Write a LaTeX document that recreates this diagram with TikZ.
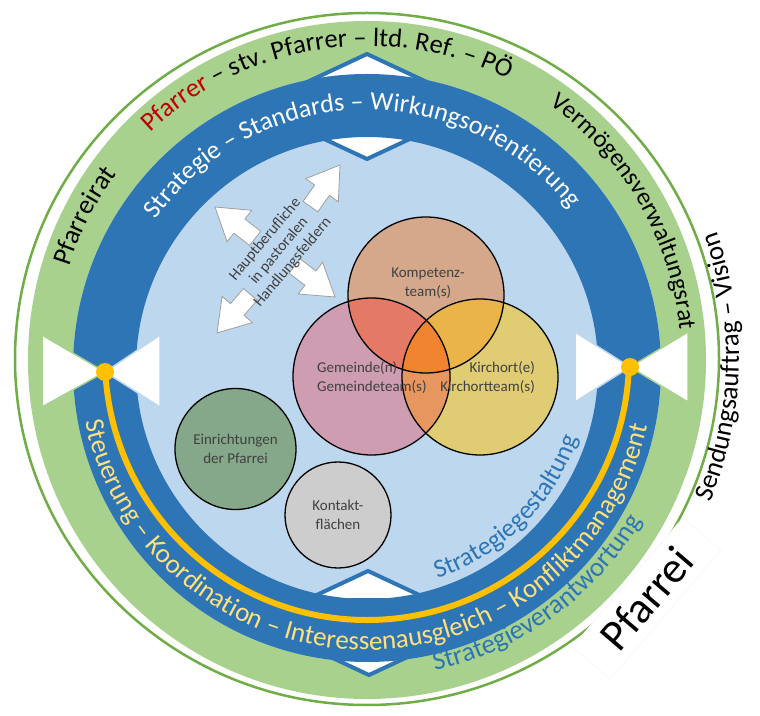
\documentclass[tikz,border=0pt]{standalone}
\usepackage{fontspec}
\setmainfont{Carlito}
\usetikzlibrary{decorations.text}
\definecolor{lgreen}{HTML}{A9D18E}
\definecolor{dblue}{HTML}{2E75B6}
\definecolor{lblue}{HTML}{BDD7EE}
\definecolor{ygold}{HTML}{FFC000}
\definecolor{gline}{HTML}{70AD47}
\definecolor{ytext}{HTML}{FFE07A}
\definecolor{pred}{HTML}{C00000}
\definecolor{txtgray}{HTML}{404040}
\definecolor{konly}{RGB}{213,168,140}
\definecolor{gonly}{RGB}{206,157,177}
\definecolor{ronly}{RGB}{224,205,115}
\definecolor{kgcol}{RGB}{228,122,102}
\definecolor{krcol}{RGB}{234,180,72}
\definecolor{grcol}{RGB}{232,150,96}
\definecolor{kgrcol}{RGB}{240,132,48}
\definecolor{einr}{RGB}{132,168,137}
\definecolor{kont}{RGB}{206,205,205}
\newcommand{\hbarrow}[2]{\draw[blockarrow, shift={#1}, rotate=#2] (0,0) -- (-31,20) -- (-31,9) -- (-51,9) -- (-51,-9) -- (-31,-9) -- (-31,-20) -- cycle;}
\begin{document}
\begin{tikzpicture}[x=1pt,y=1pt,
  chev/.style={fill=white, draw=dblue, line width=4pt, line join=miter},
  bowg/.style={fill=white, draw=lgreen, line width=1.5pt},
  bowb/.style={fill=white, draw=lblue, line width=1.5pt},
  blockarrow/.style={fill=white, draw=gray!75, line width=0.8pt, line join=miter},
  venn/.style={draw=black, line width=1.3pt},
  smalltxt/.style={text=txtgray, font=\fontsize{15}{19}\selectfont, inner sep=0pt}]
\useasboundingbox (0,0) rectangle (760,715);
\fill[white] (0,0) rectangle (760,715);

% centres
\coordinate (oc) at (367,356);
\coordinate (gc) at (367,355);
\coordinate (bc) at (367,347);
\coordinate (yc) at (367,357);

% outer thin line
\draw[gline, line width=2.5pt] (oc) ellipse[x radius=352, y radius=346];
% light green ring
\fill[lgreen] (gc) circle[radius=339];
% inner light blue
\fill[lblue] (bc) circle[radius=294];

% chevrons (white triangles with blue outline)
\draw[chev] (367,661) -- (305,632) -- (429,632) -- cycle;
\draw[chev] (367,556) -- (305,585) -- (429,585) -- cycle;
\draw[chev] (368,144) -- (306,115) -- (430,115) -- cycle;
\draw[chev] (369,40) -- (307,69) -- (431,69) -- cycle;

% dark blue ring
\fill[dblue, even odd rule] (bc) circle[radius=294] (bc) circle[radius=231];

% bow ties
\draw[bowg] (42,380) -- (105,343) -- (42,308) -- cycle;
\draw[bowb] (160,380) -- (105,343) -- (160,308) -- cycle;
\draw[bowb] (575,383) -- (630,348) -- (575,313) -- cycle;
\draw[bowg] (688,383) -- (630,348) -- (688,313) -- cycle;

% yellow arc and dots
\draw[ygold, line width=6pt] ([shift={(yc)}]183:262) arc[start angle=183, end angle=358, radius=262];
\node[circle, fill=ygold, minimum size=18pt, inner sep=0pt] (dotL) at (105,343) {};
\node[circle, fill=ygold, minimum size=18pt, inner sep=0pt] (dotR) at (630,348) {};

% ring texts
\path[decorate, decoration={text along path, text align=center,
  text={|\fontsize{26.5}{30}\selectfont\color{pred}|Pfarrer|\fontsize{26.5}{30}\selectfont\color{black}| – stv. Pfarrer – ltd. Ref. – PÖ}}]
  ([shift={(gc)}]150:314) arc[start angle=150, end angle=47, radius=314];
\path[decorate, decoration={text along path, text align=center,
  text={|\fontsize{27}{30}\selectfont\color{black}|Pfarreirat}}]
  ([shift={(gc)}]175:312) arc[start angle=175, end angle=131, radius=312];
\path[decorate, decoration={text along path, text align=center,
  text={|\fontsize{25}{30}\selectfont\color{black}|Vermögensverwaltungsrat}}]
  ([shift={(gc)}]62:314) arc[start angle=62, end angle=-2, radius=314];
\path[decorate, decoration={text along path, text align=center,
  text={|\fontsize{26}{30}\selectfont\color{white}|Strategie – Standards – Wirkungsorientierung}}]
  ([shift={(bc)}]155:258) arc[start angle=155, end angle=28, radius=258];
\path[decorate, decoration={text along path, text align=center,
  text={|\fontsize{27}{30}\selectfont\color{ytext}|Steuerung – Koordination – Interessenausgleich – Konfliktmanagement}}]
  ([shift={(367,353)}]-176:288) arc[start angle=-176, end angle=-5, radius=288];
\path[decorate, decoration={text along path, text align=center,
  text={|\fontsize{26}{30}\selectfont\color{dblue}|Strategiegestaltung}}]
  ([shift={(bc)}]-80:222) arc[start angle=-80, end angle=-10, radius=222];
\path[decorate, decoration={text along path, text align=center,
  text={|\fontsize{27}{30}\selectfont\color{dblue}|Strategieverantwortung}}]
  ([shift={(gc)}]-85:318) arc[start angle=-85, end angle=-23, radius=318];
\path[decorate, decoration={text along path, text align=center,
  text={|\fontsize{27}{30}\selectfont\color{black}|Sendungsauftrag – Vision}}]
  ([shift={(oc)}]-32:372) arc[start angle=-32, end angle=29.4, radius=372];

% Venn diagram
\coordinate (kc) at (426,420);
\coordinate (gmc) at (371.5,338.5);
\coordinate (rc) at (480,338);
\fill[konly] (kc) circle[radius=78];
\fill[gonly] (gmc) circle[radius=78.5];
\fill[ronly] (rc) circle[radius=78];
\begin{scope}\clip (kc) circle[radius=78]; \fill[kgcol] (gmc) circle[radius=78.5]; \end{scope}
\begin{scope}\clip (kc) circle[radius=78]; \fill[krcol] (rc) circle[radius=78]; \end{scope}
\begin{scope}\clip (gmc) circle[radius=78.5]; \fill[grcol] (rc) circle[radius=78]; \end{scope}
\begin{scope}\clip (kc) circle[radius=78]; \clip (gmc) circle[radius=78.5]; \fill[kgrcol] (rc) circle[radius=78]; \end{scope}
\draw[venn] (kc) circle[radius=78];
\draw[venn] (gmc) circle[radius=78.5];
\draw[venn] (rc) circle[radius=78];
\node[smalltxt, align=center] (komp) at (428,432) {Kompetenz-\\team(s)};
\node[smalltxt, align=left, anchor=west] (gem) at (317,337.5) {Gemeinde(n)\\Gemeindeteam(s)};
\node[smalltxt, align=right, anchor=east] (kirch) at (535,337.5) {Kirchort(e)\\Kirchortteam(s)};

% other circles
\node[circle, draw=black, line width=1.3pt, fill=einr, minimum size=121pt, inner sep=0pt] (einrc) at (235.5,266) {};
\node[smalltxt, align=center] (einrt) at (einrc) {Einrichtungen\\der Pfarrei};
\node[circle, draw=black, line width=1.3pt, fill=kont, minimum size=106pt, inner sep=0pt] (kontc) at (338,200) {};
\node[smalltxt, align=center] (kontt) at (kontc) {Kontakt-\\flächen};

% arrows and text
\hbarrow{(215,508)}{142}
\hbarrow{(340,550)}{54.6}
\hbarrow{(335,418)}{-37.5}
\hbarrow{(217,382)}{-130.8}
\node[smalltxt, align=center, rotate=50, font=\fontsize{15.5}{18}\selectfont] (haupt) at (279,464) {Hauptberufliche\\in pastoralen\\Handlungsfeldern};

% Pfarrei box
\node[rotate=49.4, fill=white, draw=gray!7, line width=0.6pt, minimum width=170pt, minimum height=50pt, inner sep=0pt,
  font=\fontsize{44}{44}\selectfont] (pfarrei) at (646.5,116.5) {Pfarrei};
\end{tikzpicture}
\end{document}
